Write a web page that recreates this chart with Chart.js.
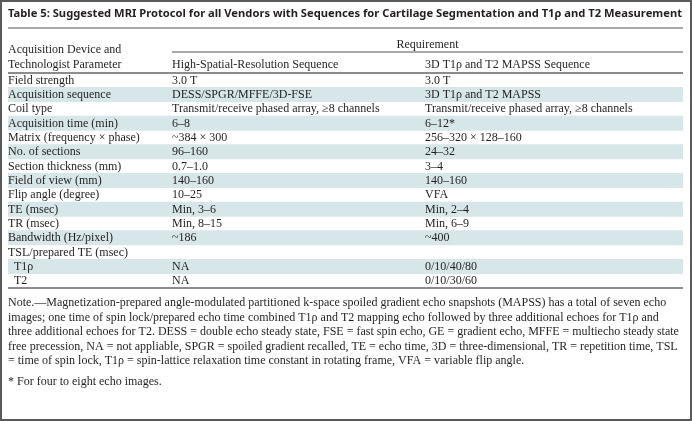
<!DOCTYPE html>
<html>
<head>
<meta charset="utf-8">
<script src="https://cdn.jsdelivr.net/npm/chart.js@4"></script>
<style>
  body { margin: 0; background: #fff; }
  canvas { display: block; }
</style>
</head>
<body>
<canvas id="tableChart" width="692" height="421"></canvas>
<script>
// Table content
const title = "Table 5: Suggested MRI Protocol for all Vendors with Sequences for Cartilage Segmentation and T1\u03c1 and T2 Measurement";
const groupHeader = "Requirement";
const columnHeaders = ["Technologist Parameter", "High-Spatial-Resolution Sequence", "3D T1\u03c1 and T2 MAPSS Sequence"];
const firstHeaderLine = "Acquisition Device and";

const parameters = [
    "Field strength", "Acquisition sequence", "Coil type", "Acquisition time (min)",
    "Matrix (frequency \u00d7 phase)", "No. of sections", "Section thickness (mm)",
    "Field of view (mm)", "Flip angle (degree)", "TE (msec)", "TR (msec)",
    "Bandwidth (Hz/pixel)", "TSL/prepared TE (msec)", "  T1\u03c1", "  T2"
];
const highResSequence = [
    "3.0 T", "DESS/SPGR/MFFE/3D-FSE", "Transmit/receive phased array, \u22658 channels", "6\u20138",
    "~384 \u00d7 300", "96\u2013160", "0.7\u20131.0", "140\u2013160", "10\u201325", "Min, 3\u20136",
    "Min, 8\u201315", "~186", "", "NA", "NA"
];
const mapssSequence = [
    "3.0 T", "3D T1\u03c1 and T2 MAPSS", "Transmit/receive phased array, \u22658 channels", "6\u201312*",
    "256\u2013320 \u00d7 128\u2013160", "24\u201332", "3\u20134", "140\u2013160", "VFA", "Min, 2\u20134",
    "Min, 6\u20139", "~400", "", "0/10/40/80", "0/10/30/60"
];

const noteLines = [
    "Note.\u2014Magnetization-prepared angle-modulated partitioned k-space spoiled gradient echo snapshots (MAPSS) has a total of seven echo",
    "images; one time of spin lock/prepared echo time combined T1\u03c1 and T2 mapping echo followed by three additional echoes for T1\u03c1 and",
    "three additional echoes for T2. DESS = double echo steady state, FSE = fast spin echo, GE = gradient echo, MFFE = multiecho steady state",
    "free precession, NA = not appliable, SPGR = spoiled gradient recalled, TE = echo time, 3D = three-dimensional, TR = repetition time, TSL",
    "= time of spin lock, T1\u03c1 = spin-lattice relaxation time constant in rotating frame, VFA = variable flip angle."
];
const footnote = "* For four to eight echo images.";

// Layout / style
const SERIF = "12px 'Liberation Serif', 'DejaVu Serif', serif";
const TEXT = "#231f20";
const RULE = "#8c8c8c";
const SHADE = "#d6e6e9";
const COL_X = [8, 172, 425];
const RIGHT = 683;

function rule(ctx, x1, x2, y, w) {
    ctx.save();
    ctx.strokeStyle = RULE;
    ctx.lineWidth = w;
    ctx.beginPath();
    ctx.moveTo(x1, y);
    ctx.lineTo(x2, y);
    ctx.stroke();
    ctx.restore();
}

const tablePlugin = {
    id: "tableText",
    beforeDraw(chart) {
        const ctx = chart.ctx;
        ctx.save();
        ctx.fillStyle = "#fff";
        ctx.fillRect(0, 0, chart.width, chart.height);
        ctx.restore();
    },
    afterDatasetsDraw(chart) {
        const ctx = chart.ctx;
        const yScale = chart.scales.y;
        const area = chart.chartArea;
        ctx.save();
        ctx.fillStyle = TEXT;
        ctx.textBaseline = "middle";

        // title, fitted to the table width
        let size = 14;
        ctx.font = "bold " + size + "px 'Noto Sans', Lato, sans-serif";
        while (ctx.measureText(title).width > RIGHT - COL_X[0] && size > 8) {
            size -= 0.1;
            ctx.font = "bold " + size + "px 'Noto Sans', Lato, sans-serif";
        }
        ctx.fillText(title, COL_X[0], 14);
        rule(ctx, COL_X[0], RIGHT, 28, 1.5);

        // header
        ctx.font = SERIF;
        ctx.textAlign = "center";
        ctx.fillText(groupHeader, (COL_X[1] + RIGHT) / 2, 45);
        ctx.textAlign = "left";
        rule(ctx, COL_X[1], RIGHT, 52, 1.5);
        ctx.fillText(firstHeaderLine, COL_X[0], 50);
        columnHeaders.forEach((h, i) => ctx.fillText(h, COL_X[i], 64.5));
        rule(ctx, COL_X[0], RIGHT, area.top, 2);

        // body rows
        parameters.forEach((p, i) => {
            const y = yScale.getPixelForValue(i) + 0.5;
            ctx.fillText(p, COL_X[0], y);
            ctx.fillText(highResSequence[i], COL_X[1], y);
            ctx.fillText(mapssSequence[i], COL_X[2], y);
        });
        rule(ctx, COL_X[0], RIGHT, area.bottom, 2);

        // notes
        noteLines.forEach((line, i) => ctx.fillText(line, COL_X[0], area.bottom + 15 + i * 14.5));
        ctx.fillText(footnote, COL_X[0], area.bottom + 15 + noteLines.length * 14.5 + 6);

        // frame
        ctx.strokeStyle = "#5a5a5a";
        ctx.lineWidth = 2;
        ctx.strokeRect(1, 1, chart.width - 2, chart.height - 2);
        ctx.restore();
    }
};

new Chart(document.getElementById("tableChart"), {
    type: "bar",
    data: {
        labels: parameters,
        datasets: [{
            data: parameters.map((p, i) => (i % 2 === 1 ? [0, 1] : null)),
            backgroundColor: SHADE,
            borderWidth: 0,
            barPercentage: 1,
            categoryPercentage: 1
        }]
    },
    options: {
        indexAxis: "y",
        responsive: false,
        animation: false,
        events: [],
        layout: { padding: { left: COL_X[0], right: 692 - RIGHT, top: 73, bottom: 133 } },
        scales: {
            x: { display: false, min: 0, max: 1 },
            y: { display: false }
        },
        plugins: { legend: { display: false }, tooltip: { enabled: false } }
    },
    plugins: [tablePlugin]
});
</script>
</body>
</html>
